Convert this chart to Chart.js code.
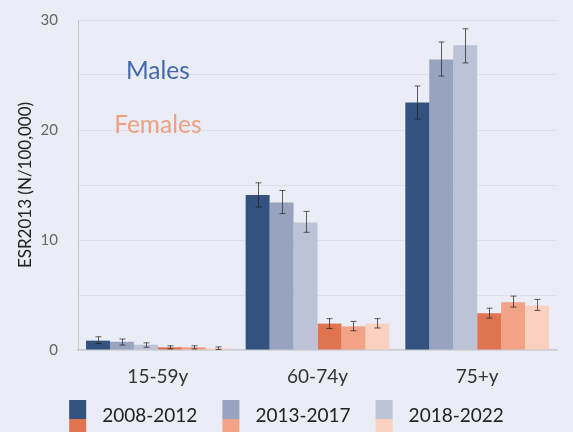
<!DOCTYPE html>
<html>
<head>
<meta charset="utf-8">
<script src="https://cdn.jsdelivr.net/npm/chart.js@4/dist/chart.umd.min.js"></script>
<style>
  body { margin: 0; background: #eaedf5; }
  #wrap { width: 573px; height: 432px; }
</style>
</head>
<body>
<div id="wrap"><canvas id="graph" width="573" height="432"></canvas></div>
<script>
const ageGroups = ['15-59y', '60-74y', '75+y'];
const periods = ['2008-2012', '2013-2017', '2018-2022'];

// ESR2013 rates per 100,000
const male0812 = [0.85, 14.1, 22.5];
const male1317 = [0.75, 13.4, 26.4];
const male1822 = [0.48, 11.6, 27.7];
const female0812 = [0.25, 2.4, 3.35];
const female1317 = [0.25, 2.15, 4.35];
const female1822 = [0.15, 2.4, 4.05];

// confidence intervals
const male0812Lo = [0.6, 13.0, 21.0];
const male0812Hi = [1.2, 15.2, 24.0];
const male1317Lo = [0.45, 12.4, 24.9];
const male1317Hi = [1.0, 14.5, 28.0];
const male1822Lo = [0.25, 10.7, 26.1];
const male1822Hi = [0.65, 12.6, 29.2];
const female0812Lo = [0.1, 1.95, 2.9];
const female0812Hi = [0.38, 2.85, 3.8];
const female1317Lo = [0.1, 1.75, 3.9];
const female1317Hi = [0.38, 2.6, 4.9];
const female1822Lo = [0.05, 2.0, 3.6];
const female1822Hi = [0.28, 2.85, 4.6];

const maleColors = ['#34527f', '#98a3bf', '#bcc3d6'];
const femaleColors = ['#e07450', '#f2a285', '#fad0c0'];

const series = [
    { label: 'Males ' + periods[0], data: male0812, lo: male0812Lo, hi: male0812Hi, color: maleColors[0] },
    { label: 'Males ' + periods[1], data: male1317, lo: male1317Lo, hi: male1317Hi, color: maleColors[1] },
    { label: 'Males ' + periods[2], data: male1822, lo: male1822Lo, hi: male1822Hi, color: maleColors[2] },
    { label: 'Females ' + periods[0], data: female0812, lo: female0812Lo, hi: female0812Hi, color: femaleColors[0] },
    { label: 'Females ' + periods[1], data: female1317, lo: female1317Lo, hi: female1317Hi, color: femaleColors[1] },
    { label: 'Females ' + periods[2], data: female1822, lo: female1822Lo, hi: female1822Hi, color: femaleColors[2] }
];

const errorBars = {
    id: 'errorBars',
    afterDatasetsDraw(chart) {
        const ctx = chart.ctx;
        const y = chart.scales.y;
        ctx.save();
        ctx.strokeStyle = 'rgba(30,30,30,0.7)';
        ctx.lineWidth = 1;
        series.forEach((s, i) => {
            chart.getDatasetMeta(i).data.forEach((bar, j) => {
                const x = Math.round(bar.x) + 0.5;
                const top = y.getPixelForValue(s.hi[j]);
                const bot = y.getPixelForValue(s.lo[j]);
                ctx.beginPath();
                ctx.moveTo(x, top); ctx.lineTo(x, bot);
                ctx.moveTo(x - 3, top); ctx.lineTo(x + 3, top);
                ctx.moveTo(x - 3, bot); ctx.lineTo(x + 3, bot);
                ctx.stroke();
            });
        });
        ctx.restore();
    }
};

const annotations = {
    id: 'annotations',
    afterDraw(chart) {
        const ctx = chart.ctx;
        const x = chart.scales.x.getPixelForValue(0);
        const y = chart.scales.y;
        ctx.save();
        ctx.font = '24.5px Lato';
        ctx.textAlign = 'center';
        ctx.textBaseline = 'alphabetic';
        ctx.fillStyle = '#4468a8';
        ctx.fillText('Males', x, y.getPixelForValue(24.6));
        ctx.fillStyle = '#ef9f83';
        ctx.fillText('Females', x, y.getPixelForValue(19.7));

        // legend: each swatch shows males on top, females below
        ctx.font = '19px Lato';
        ctx.textAlign = 'left';
        ctx.textBaseline = 'middle';
        const box = 17, gapText = 16, gapItem = 25;
        const widths = periods.map(p => box + gapText + ctx.measureText(p).width);
        const total = widths.reduce((a, w) => a + w, 0) + gapItem * (periods.length - 1);
        let lx = chart.width / 2 - total / 2;
        const ly = 400;
        periods.forEach((p, i) => {
            ctx.fillStyle = maleColors[i];
            ctx.fillRect(lx, ly, box, 19);
            ctx.fillStyle = femaleColors[i];
            ctx.fillRect(lx, ly + 19, box, 19);
            ctx.fillStyle = '#222';
            ctx.fillText(p, lx + box + gapText, ly + 16);
            lx += widths[i] + gapItem;
        });
        ctx.restore();
    }
};

const chart = new Chart(document.querySelector('#graph').getContext('2d'), {
    type: 'bar',
    data: {
        labels: ageGroups,
        datasets: series.map(s => ({
            label: s.label,
            data: s.data,
            backgroundColor: s.color,
            borderWidth: 0,
            barPercentage: 1,
            categoryPercentage: 0.9
        }))
    },
    options: {
        responsive: false,
        animation: false,
        layout: { padding: { top: 20, right: 16, bottom: 44, left: 0 } },
        plugins: {
            legend: { display: false },
            tooltip: { enabled: false }
        },
        scales: {
            x: {
                grid: { display: false, drawTicks: false },
                border: { color: '#c9cbd0', width: 1.5 },
                ticks: { color: '#333', font: { family: 'Lato', size: 19 }, padding: 15 },
                afterFit(scale) { scale.height = 38; }
            },
            y: {
                min: 0,
                max: 30,
                grid: { color: '#dde0e8', drawTicks: true, tickLength: 18, tickColor: 'rgba(0,0,0,0)' },
                border: { color: '#c5c7cc', width: 1 },
                ticks: {
                    stepSize: 5,
                    padding: 2,
                    color: '#666',
                    font: { family: 'Lato', size: 15 },
                    callback: v => (v % 10 === 0 ? v : '')
                },
                title: {
                    display: true,
                    text: 'ESR2013 (N/100,000)',
                    color: '#222',
                    font: { family: 'Lato', size: 17 },
                    padding: { top: 15, bottom: 0 }
                },
                afterFit(scale) { scale.width = 78; }
            }
        }
    },
    plugins: [errorBars, annotations]
});
</script>
</body>
</html>
